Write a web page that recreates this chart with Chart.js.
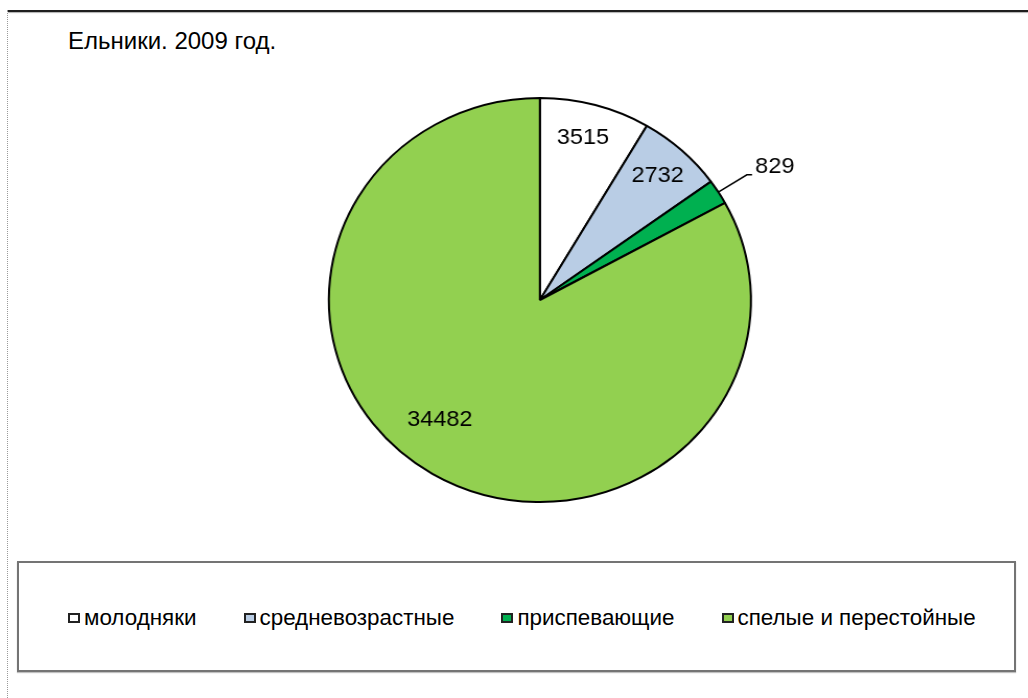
<!DOCTYPE html>
<html lang="ru">
<head>
<meta charset="utf-8">
<title>Ельники. 2009 год.</title>
<script src="https://cdn.jsdelivr.net/npm/chart.js@4.4.0/dist/chart.umd.min.js"></script>
<style>
    html, body {
        margin: 0;
        padding: 0;
        background: #fff;
        width: 1028px;
        height: 698px;
        overflow: hidden;
        font-family: "Liberation Sans", Arial, sans-serif;
    }
    .frame-top {
        position: absolute;
        left: 8px;
        top: 10px;
        width: 1020px;
        border-top: 2px solid #1e1e1e;
        box-shadow: 0 1px 1px #b0b0b0;
    }
    .frame-left {
        position: absolute;
        left: 7px;
        top: 10px;
        bottom: 0;
        border-left: 1px dotted #9a9a9a;
    }
    .chart-title {
        position: absolute;
        left: 68px;
        top: 29px;
        font-size: 24px;
        line-height: 24px;
        color: #000;
        white-space: nowrap;
    }
    .legend-box {
        position: absolute;
        left: 17px;
        top: 561px;
        width: 999px;
        height: 111px;
        box-sizing: border-box;
        border: 2px solid #747474;
        box-shadow: 0 1px 1px #c0c0c0;
    }
    .legend-row {
        position: absolute;
        left: 68px;
        top: 607px;
        display: flex;
        align-items: center;
        gap: 47px;
        font-size: 22.4px;
        line-height: 22px;
        white-space: nowrap;
    }
    .legend-item {
        display: flex;
        align-items: center;
    }
    .legend-key {
        width: 12px;
        height: 10px;
        box-sizing: border-box;
        border: 2px solid #222;
        margin-right: 4px;
    }
    #pieChart {
        position: absolute;
        left: 0;
        top: 0;
    }
</style>
</head>
<body>
<div class="frame-top"></div>
<div class="frame-left"></div>
<div class="chart-title">Ельники. 2009 год.</div>
<div class="legend-box"></div>
<div class="legend-row" id="legend"></div>
<!-- drawn at 984 wide and stretched to 1028, like the original picture -->
<canvas id="pieChart" width="984" height="698" style="width:1028px;height:698px;"></canvas>

<script>
// Age groups of spruce stands and their areas
const categories = ['молодняки', 'средневозрастные', 'приспевающие', 'спелые и перестойные'];
const areaValues = [3515, 2732, 829, 34482];
const sliceColors = ['#FFFFFF', '#B9CDE5', '#00B050', '#92D050'];

// Value labels drawn on top of the slices
const sliceLabelPlugin = {
    id: 'sliceLabels',
    afterDatasetsDraw(chart, args, opts) {
        const ctx = chart.ctx;
        const meta = chart.getDatasetMeta(0);
        const values = chart.data.datasets[0].data;

        ctx.save();
        ctx.font = opts.font;
        ctx.fillStyle = '#000';
        ctx.strokeStyle = '#000';
        ctx.lineWidth = 1.5;

        meta.data.forEach((arc, i) => {
            const { x, y, startAngle, endAngle, outerRadius } =
                arc.getProps(['x', 'y', 'startAngle', 'endAngle', 'outerRadius'], true);
            const mid = (startAngle + endAngle) / 2;
            const text = String(values[i]);

            if (opts.outside[i]) {
                // small slice: leader line out to the label
                const ex = x + Math.cos(mid) * outerRadius;
                const ey = y + Math.sin(mid) * outerRadius;
                const bx = x + Math.cos(mid) * outerRadius * 1.16;
                const by = y + Math.sin(mid) * outerRadius * 1.16;
                ctx.beginPath();
                ctx.moveTo(ex, ey);
                ctx.lineTo(bx, by);
                ctx.lineTo(bx + 5, by);
                ctx.stroke();
                ctx.textAlign = 'left';
                ctx.textBaseline = 'middle';
                ctx.fillText(text, bx + 8, by - 8);
            } else {
                const a = mid + (opts.angleShift[i] || 0) * Math.PI / 180;
                const r = outerRadius * opts.radius[i];
                ctx.textAlign = 'center';
                ctx.textBaseline = 'middle';
                ctx.fillText(text, x + Math.cos(a) * r, y + Math.sin(a) * r);
            }
        });
        ctx.restore();
    }
};

function buildLegend() {
    const legendEl = document.getElementById('legend');
    categories.forEach((name, i) => {
        const item = document.createElement('div');
        item.className = 'legend-item';
        const key = document.createElement('span');
        key.className = 'legend-key';
        key.style.background = sliceColors[i];
        const label = document.createElement('span');
        label.textContent = name;
        item.appendChild(key);
        item.appendChild(label);
        legendEl.appendChild(item);
    });
}

function createPieChart() {
    const ctx = document.getElementById('pieChart').getContext('2d');
    new Chart(ctx, {
        type: 'pie',
        data: {
            labels: categories,
            datasets: [{
                data: areaValues,
                backgroundColor: sliceColors,
                borderColor: '#000',
                borderWidth: 2,
                radius: 202
            }]
        },
        options: {
            responsive: false,
            devicePixelRatio: 1,
            animation: false,
            layout: {
                padding: { left: 100, right: 50.4, top: 50, bottom: 148 }
            },
            plugins: {
                legend: { display: false },
                title: { display: false },
                tooltip: { enabled: false },
                sliceLabels: {
                    font: '22.5px "Liberation Sans", Arial, sans-serif',
                    radius: [0.83, 0.83, 0, 0.76],
                    angleShift: [-1, 0, 0, 8],
                    outside: [false, false, true, false]
                }
            }
        },
        plugins: [sliceLabelPlugin]
    });
}

buildLegend();
createPieChart();
</script>
</body>
</html>
